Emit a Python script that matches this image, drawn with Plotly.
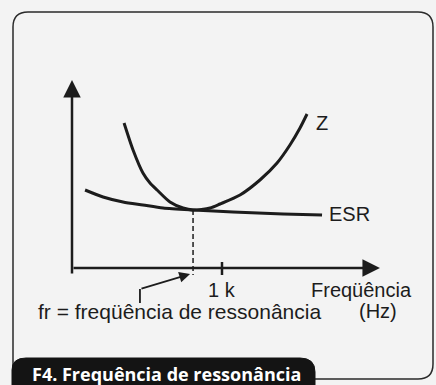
import plotly.graph_objects as go

# ── Data (frequency in kHz, impedance in arbitrary units) ──────────────────
FREQ_Z = [0.347, 0.407, 0.473, 0.52, 0.567, 0.653, 0.74, 0.807, 0.92, 0.987,
          1.12, 1.253, 1.367, 1.453, 1.52, 1.567]
Z_VALUES = [7.25, 5.9, 4.75, 4.25, 3.9, 3.3, 3.0, 2.9, 3.0, 3.2,
            3.65, 4.4, 5.25, 6.15, 7.0, 7.7]

FREQ_ESR = [0.087, 0.207, 0.34, 0.473, 0.607, 0.807, 1.073, 1.407, 1.667]
ESR_VALUES = [3.9, 3.55, 3.3, 3.15, 3.0, 2.9, 2.8, 2.7, 2.65]

FR = 0.807         # resonance frequency
TICK_1K = 1.0      # the "1 k" mark
X_AXIS_MAX = 2.053
Y_AXIS_MAX = 9.4
Y_AXIS_MIN = -0.35

LABEL_Z = "Z"
LABEL_ESR = "ESR"
LABEL_1K = "1 k"
LABEL_FREQ = "Freqüência"
LABEL_FR = "fr = freqüência de ressonância"
LABEL_HZ = "(Hz)"
CAPTION = "F4. Frequência de ressonância"

INK = "#1c1c1c"
BG = "#f3f3f3"
W, H = 436, 385


def px(x):
    return x / W


def py(y):
    return 1 - y / H


fig = go.Figure()

# ── Curves ────────────────────────────────────────────────────────────────
fig.add_trace(go.Scatter(
    x=FREQ_Z, y=Z_VALUES, mode="lines",
    line=dict(color=INK, width=3, shape="spline", smoothing=0.7),
    hoverinfo="skip",
))
fig.add_trace(go.Scatter(
    x=FREQ_ESR, y=ESR_VALUES, mode="lines",
    line=dict(color=INK, width=3, shape="spline", smoothing=0.7),
    hoverinfo="skip",
))

# dashed drop line at fr
fig.add_trace(go.Scatter(
    x=[FR, FR], y=[min(Z_VALUES), Y_AXIS_MIN], mode="lines",
    line=dict(color=INK, width=1.5, dash="5px,3px"),
    hoverinfo="skip",
))
# 1 k tick
fig.add_trace(go.Scatter(
    x=[TICK_1K, TICK_1K], y=[0.3, Y_AXIS_MIN], mode="lines",
    line=dict(color=INK, width=2.5), hoverinfo="skip",
))
# fr pointer (vertical stub)
fig.add_trace(go.Scatter(
    x=[0.453, 0.453], y=[-1.75, -1.05], mode="lines",
    line=dict(color=INK, width=1.8), hoverinfo="skip",
))

# ── Axes arrows ──────────────────────────────────────────────────────────
arrow = dict(xref="x", yref="y", axref="x", ayref="y", text="",
             showarrow=True, arrowcolor=INK)
fig.add_annotation(x=0, y=Y_AXIS_MAX, ax=0, ay=Y_AXIS_MIN,
                   arrowhead=2, arrowsize=1.4, arrowwidth=2.5, **arrow)
fig.add_annotation(x=X_AXIS_MAX, y=0, ax=0, ay=0,
                   arrowhead=2, arrowsize=1.4, arrowwidth=2.5, **arrow)
fig.add_annotation(x=FR - 0.02, y=-0.3, ax=0.453, ay=-1.05,
                   arrowhead=2, arrowsize=1.2, arrowwidth=1.8, **arrow)

# ── Labels ────────────────────────────────────────────────────────────────
font = dict(family="Liberation Sans, Arial", size=20, color=INK)
lab = dict(xref="x", yref="y", showarrow=False, font=font)
fig.add_annotation(x=1.667, y=7.25, text=LABEL_Z, **lab)
fig.add_annotation(x=1.70, y=2.7, text=LABEL_ESR, xanchor="left", **lab)
fig.add_annotation(x=TICK_1K, y=-1.1, text=LABEL_1K, **lab)
fig.add_annotation(x=1.933, y=-1.1, text=LABEL_FREQ, **lab)
fig.add_annotation(x=-0.24, y=-2.15, text=LABEL_FR, xanchor="left",
                   xref="x", yref="y", showarrow=False,
                   font=dict(font, size=21))
fig.add_annotation(x=2.04, y=-2.15, text=LABEL_HZ, **lab)

# ── Frame and caption ─────────────────────────────────────────────────────
r = 15
frame = (f"M {px(13)},{py(12 + r)} Q {px(13)},{py(12)} {px(13 + r)},{py(12)} "
         f"L {px(433 - r)},{py(12)} Q {px(433)},{py(12)} {px(433)},{py(12 + r)} "
         f"L {px(433)},{py(379 - r)} Q {px(433)},{py(379)} {px(433 - r)},{py(379)} "
         f"L {px(13)},{py(379)} Z")
fig.add_shape(type="path", path=frame, xref="paper", yref="paper",
              line=dict(color="#2a2a2a", width=1.5), layer="below")

pill = (f"M {px(12)},{py(392)} L {px(12)},{py(370)} "
        f"Q {px(12)},{py(358)} {px(26)},{py(358)} "
        f"L {px(300)},{py(358)} Q {px(315)},{py(358)} {px(315)},{py(372)} "
        f"L {px(315)},{py(392)} Z")
fig.add_shape(type="path", path=pill, xref="paper", yref="paper",
              fillcolor="#141414", line=dict(color="#141414", width=1))
fig.add_annotation(x=px(30), y=py(374), xref="paper", yref="paper",
                   text=CAPTION, showarrow=False,
                   xanchor="left", yanchor="middle",
                   font=dict(family="Open Sans", size=18, color="white",
                             weight="bold"))

fig.update_layout(
    width=W, height=H,
    margin=dict(l=0, r=0, t=0, b=0),
    paper_bgcolor=BG, plot_bgcolor=BG,
    showlegend=False,
    xaxis=dict(range=[-0.48, 2.4267], visible=False, fixedrange=True),
    yaxis=dict(range=[-5.85, 13.4], visible=False, fixedrange=True),
)

fig.write_html("out.html", config={"displayModeBar": False},
               post_script="document.body.style.margin='0';")
